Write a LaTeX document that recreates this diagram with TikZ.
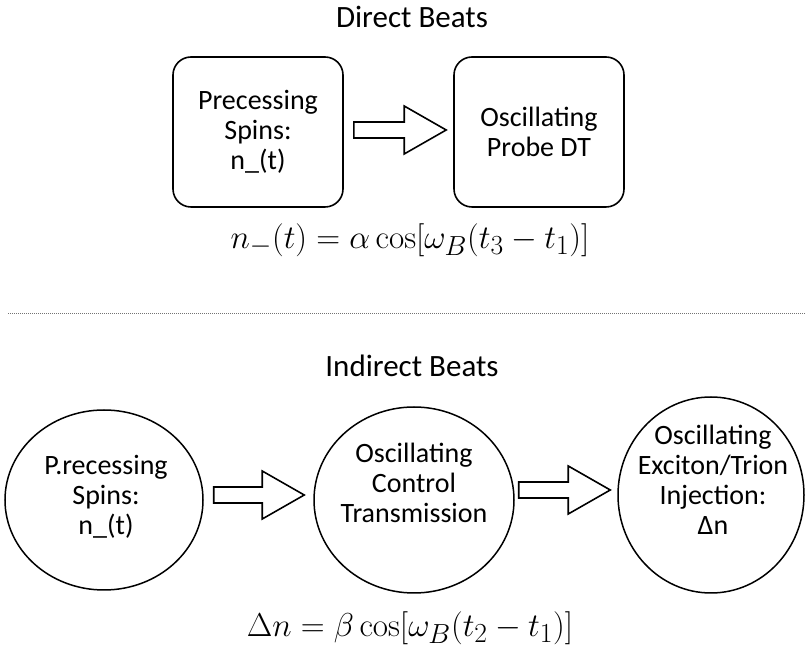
\documentclass[tikz,border=0pt]{standalone}
\usepackage[no-math]{fontspec}
\setmainfont{Carlito}
\usetikzlibrary{arrows.meta,
                positioning,
                calc, shapes.geometric}
\tikzset{beatbox/.style={draw, line width=1.6pt, rounded corners=18pt,
    minimum width=170pt, minimum height=150pt, inner sep=0pt},
    beatoval/.style={draw, ellipse, line width=1.5pt, inner sep=0pt},
    boxtext/.style={align=center, font=\fontsize{28}{30}\selectfont},
    heading/.style={font=\fontsize{31}{36}\selectfont},
    formula/.style={font=\fontsize{30}{36}\selectfont, scale=1.33, transform shape},
    fatarrow/.style={draw, line width=1.6pt, line join=miter,
    to path={let \p1=(\tikztostart), \p2=(\tikztotarget) in
    (\x1,\y1+8pt) -- (\x2-42pt,\y1+8pt) -- (\x2-42pt,\y1+24pt) -- (\x2,\y1)
    -- (\x2-42pt,\y1-24pt) -- (\x2-42pt,\y1-8pt) -- (\x1,\y1-8pt) -- cycle}}}

\begin{document}
\begin{tikzpicture}[x=1pt, y=1pt]
        \useasboundingbox (0,0) rectangle (806,650);
        % direct beats
        \node[heading] (direct) at (412,633) {Direct Beats};
        \node[beatbox, boxtext] (spins) at (258,518) {Precessing\\Spins:\\n\_(t)};
        \node[beatbox, boxtext] (probe) at (539,518) {Oscillating\\Probe DT};
        \draw[fatarrow] ([xshift=10pt, yshift=2pt]spins.east) to ([xshift=-7pt, yshift=2pt]probe.west);
        \node[formula] (alpha) at (410,410) {$n_-(t) = \alpha\cos[\omega_B(t_3 - t_1)]$};
        \draw[densely dotted, black!55, line width=1pt] (8,336) -- (806,336);
        % indirect beats
        \node[heading] (indirect) at (412,284) {Indirect Beats};
        \node[beatoval, minimum width=198pt, minimum height=180pt] (spins2) at (104,150) {};
        \node[beatoval, minimum width=200pt, minimum height=186pt] (control) at (414,150) {};
        \node[beatoval, minimum width=186pt, minimum height=196pt] (inject) at (711,155) {};
        \node[boxtext] (spins2text) at (106,153) {P.recessing\\Spins:\\n\_(t)};
        \node[boxtext] (controltext) at (414,167) {Oscillating\\Control\\Transmission};
        \node[boxtext] (injecttext) at (713,170) {Oscillating\\Exciton/Trion\\Injection:\\Δn};
        \draw[fatarrow] ([xshift=10pt, yshift=5pt]spins2.east) to ([xshift=-9pt, yshift=5pt]control.west);
        \draw[fatarrow] ([xshift=4pt, yshift=10pt]control.east) to ([xshift=-7pt]inject.west);
        \node[formula] (beta) at (410,22) {$\Delta n = \beta\cos[\omega_B(t_2 - t_1)]$};
    \end{tikzpicture}
\end{document}
